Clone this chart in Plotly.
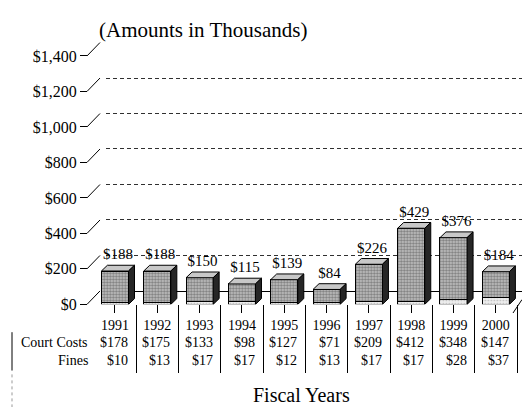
import plotly.graph_objects as go

# ---------------- data ----------------
years = ["1991", "1992", "1993", "1994", "1995", "1996", "1997", "1998", "1999", "2000"]
court_costs = [178, 175, 133, 98, 127, 71, 209, 412, 348, 147]
fines = [10, 13, 17, 17, 12, 13, 17, 17, 28, 37]
totals = [188, 188, 150, 115, 139, 84, 226, 429, 376, 184]
y_ticks = [0, 200, 400, 600, 800, 1000, 1200, 1400]
y_tick_text = ["$0", "$200", "$400", "$600", "$800", "$1,000", "$1,200", "$1,400"]

W, H = 522, 416
FONT = "Liberation Serif, Times New Roman, serif"


def px_x(p):
    return p / W


def px_y(p):
    return (H - p) / H


idx = list(range(len(years)))
bar_w = 0.64
# 3-D depth expressed in axis units (x: ~42.3 px/unit, y: ~0.185 px/unit)
dx = 6 / 42.3
dy = 6 / 0.185

fig = go.Figure()

# invisible anchor traces for the back wall and separator axes
fig.add_trace(go.Scatter(x=[None], y=[None], xaxis="x", yaxis="y", showlegend=False, hoverinfo="skip"))
fig.add_trace(go.Scatter(x=[None], y=[None], xaxis="x3", yaxis="y2", showlegend=False, hoverinfo="skip"))

# front faces (stacked: fines at bottom, court costs on top)
fig.add_trace(go.Bar(
    x=idx, y=fines, xaxis="x2", yaxis="y2", width=bar_w, name="Fines",
    marker=dict(color="#eeeeee", line=dict(color="black", width=1),
                pattern=dict(shape=".", fgcolor="#8a8a8a", size=3, solidity=0.25)),
    showlegend=False, hoverinfo="skip"))
fig.add_trace(go.Bar(
    x=idx, y=court_costs, xaxis="x2", yaxis="y2", width=bar_w, name="Court Costs",
    marker=dict(color="#c4c4c4", line=dict(color="black", width=1),
                pattern=dict(shape=".", fgcolor="#3c3c3c", size=3, solidity=0.5)),
    showlegend=False, hoverinfo="skip"))

# top and side faces
top_x, top_y, side_x, side_y = [], [], [], []
for i, t in zip(idx, totals):
    l, r = i - bar_w / 2, i + bar_w / 2
    top_x += [l, l + dx, r + dx, r, l, None]
    top_y += [t, t + dy, t + dy, t, t, None]
    side_x += [r, r, r + dx, r + dx, r, None]
    side_y += [0, t, t + dy, dy, 0, None]

fig.add_trace(go.Scatter(x=top_x, y=top_y, xaxis="x2", yaxis="y2", mode="lines",
                         fill="toself", fillcolor="#c8c8c8",
                         line=dict(color="black", width=1), showlegend=False, hoverinfo="skip"))
fig.add_trace(go.Scatter(x=side_x, y=side_y, xaxis="x2", yaxis="y2", mode="lines",
                         fill="toself", fillcolor="#262626",
                         line=dict(color="black", width=1), showlegend=False, hoverinfo="skip"))

# value labels above bars
fig.add_trace(go.Scatter(
    x=[i + dx / 2 for i in idx], y=[t + dy + 12 for t in totals], xaxis="x2", yaxis="y2",
    mode="text", text=[f"${t}" for t in totals], textposition="top center",
    textfont=dict(family=FONT, size=15, color="black"), cliponaxis=False,
    showlegend=False, hoverinfo="skip"))

# ---------------- layout ----------------
back_bottom, back_top = 295, 36
front_bottom, front_top = 309, 50

fig.update_layout(
    width=W, height=H, margin=dict(l=0, r=0, t=0, b=0),
    paper_bgcolor="white", plot_bgcolor="rgba(0,0,0,0)",
    barmode="stack", bargap=0, font=dict(family=FONT, color="black"),
    hovermode=False,
    xaxis=dict(domain=[px_x(105.8), 1.0], range=[0, 1], anchor="y",
               showgrid=False, zeroline=False, showticklabels=False, ticks="",
               showline=True, linecolor="black", linewidth=1, fixedrange=True),
    yaxis=dict(domain=[px_y(back_bottom), px_y(back_top)], range=[0, 1400], anchor="x",
               tickvals=y_ticks[1:-1], showticklabels=False, ticks="",
               showgrid=True, gridcolor="#303030", gridwidth=1, griddash="4px,3px",
               zeroline=False, fixedrange=True),
    xaxis2=dict(domain=[px_x(93.8), px_x(517)], range=[-0.5, 9.5], anchor="y2",
                tickvals=idx, ticktext=years, ticks="outside", ticklen=8,
                tickcolor="black", tickwidth=1, showgrid=False, zeroline=False,
                showline=False, tickfont=dict(family=FONT, size=14), fixedrange=True),
    yaxis2=dict(domain=[px_y(front_bottom), px_y(front_top)], range=[0, 1400],
                anchor="free", position=px_x(87), side="left",
                tickvals=y_ticks, ticktext=y_tick_text, ticks="outside", ticklen=7,
                tickcolor="black", tickwidth=1, showgrid=False, zeroline=False,
                showline=False, tickfont=dict(family=FONT, size=16), fixedrange=True),
    xaxis3=dict(overlaying="x2", anchor="y2", range=[-0.5, 9.5],
                tickvals=[i + 0.5 for i in idx], ticks="outside", ticklen=68,
                tickcolor="black", tickwidth=1, showticklabels=False,
                showgrid=False, zeroline=False, showline=False, fixedrange=True),
)

# slanted connectors from front tick to back wall
shapes = []
for v in y_ticks:
    yf = px_y(front_bottom) + v / 1400 * (px_y(front_top) - px_y(front_bottom))
    yb = px_y(back_bottom) + v / 1400 * (px_y(back_top) - px_y(back_bottom))
    shapes.append(dict(type="line", xref="paper", yref="paper",
                       x0=px_x(87), y0=yf, x1=px_x(100), y1=yb,
                       line=dict(color="black", width=1)))
# right floor edge
shapes.append(dict(type="line", xref="paper", yref="paper",
                   x0=px_x(513), y0=px_y(318), x1=px_x(522), y1=px_y(304),
                   line=dict(color="black", width=1)))
# table left border
shapes.append(dict(type="line", xref="paper", yref="paper",
                   x0=px_x(12), y0=px_y(338), x1=px_x(12), y1=px_y(378),
                   line=dict(color="black", width=1)))
shapes.append(dict(type="line", xref="paper", yref="paper",
                   x0=px_x(12), y0=px_y(382), x1=px_x(12), y1=px_y(416),
                   line=dict(color="#999999", width=1, dash="dot")))
fig.update_layout(shapes=shapes)

# table rows
ann = []
row_cc, row_f = 349, 368
ann.append(dict(text="Court Costs", xref="paper", yref="paper", x=px_x(90), y=px_y(row_cc),
                xanchor="right", yanchor="middle", showarrow=False,
                font=dict(family=FONT, size=14)))
ann.append(dict(text="Fines", xref="paper", yref="paper", x=px_x(90), y=px_y(row_f),
                xanchor="right", yanchor="middle", showarrow=False,
                font=dict(family=FONT, size=14)))
for i, c, f in zip(idx, court_costs, fines):
    ann.append(dict(text=f"${c}", xref="x2", yref="paper", x=i + 0.5, xshift=-6, y=px_y(row_cc),
                    xanchor="right", yanchor="middle", showarrow=False,
                    font=dict(family=FONT, size=14)))
    ann.append(dict(text=f"${f}", xref="x2", yref="paper", x=i + 0.5, xshift=-6, y=px_y(row_f),
                    xanchor="right", yanchor="middle", showarrow=False,
                    font=dict(family=FONT, size=14)))
ann.append(dict(text="(Amounts in Thousands)", xref="paper", yref="paper",
                x=px_x(97), y=px_y(23), xanchor="left", yanchor="middle", showarrow=False,
                font=dict(family=FONT, size=21)))
ann.append(dict(text="Fiscal Years", xref="paper", yref="paper",
                x=px_x(301), y=px_y(403), xanchor="center", yanchor="middle", showarrow=False,
                font=dict(family=FONT, size=20)))
fig.update_layout(annotations=ann)

fig.write_html("out.html", config={"displayModeBar": False, "staticPlot": True},
               post_script="document.body.style.margin='0px';document.body.style.padding='0px';")
